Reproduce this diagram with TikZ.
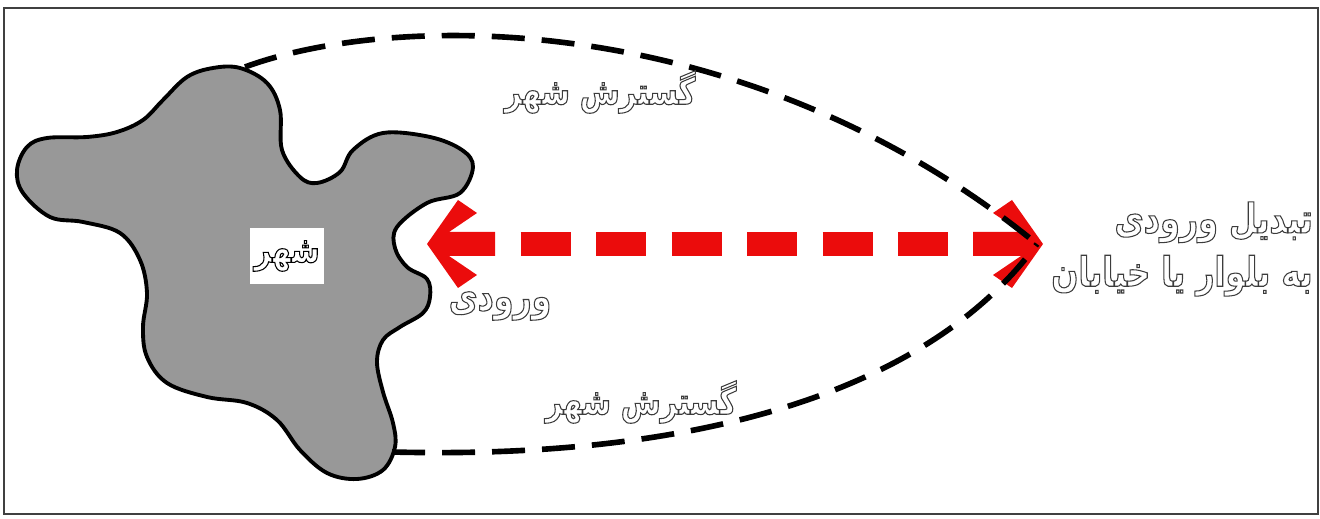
\documentclass[tikz,border=0pt]{standalone}
\usepackage{fontspec}
\usepackage{tikz}
\usetikzlibrary{positioning}
\newfontfamily\fafont[Script=Arabic, FakeStretch=0.78]{DejaVu Sans}
\TeXXeTstate=1
\newcommand\hollowfa[1]{\special{pdf:literal direct 0.3 w 1 Tr}\fafont\bfseries\beginR #1\endR\special{pdf:literal direct 0 Tr}}
\definecolor{arrowred}{RGB}{235,12,12}
\definecolor{blobgray}{RGB}{152,152,152}
\definecolor{txtgray}{RGB}{60,60,60}

\begin{document}
\begin{tikzpicture}[x=0.01cm, y=-0.01cm,
  farsi/.style={text=txtgray, inner sep=0pt, font=\fontsize{10.5}{14.5}\selectfont},
  citybox/.style={farsi, text=black, fill=white, minimum width=0.73cm, minimum height=0.55cm},
  spread/.style={line width=1.6pt, dash pattern=on 0.33cm off 0.17cm},
  entryshaft/.style={arrowred, line width=0.24cm, dash pattern=on 0.5cm off 0.255cm, dash phase=0.5cm},
  head/.style={fill=arrowred}]
\useasboundingbox (0,0) rectangle (1320,519);
\draw[line width=0.7pt, black!75] (4,8) rectangle (1318,514);

\draw[line width=1.1pt, fill=blobgray] plot[smooth cycle, tension=0.6] coordinates {
  (163,100) (187,77) (213,68) (240,68) (267,83) (280,110) (282,150) (300,177) (317,183)
  (340,172) (353,150) (383,133) (430,137) (462,150) (473,167) (460,193) (427,203)
  (397,227) (395,248) (407,267) (427,279) (430,297) (423,313) (400,327) (383,340)
  (377,362) (383,392) (393,423) (395,447) (383,470) (357,479) (327,473) (300,450)
  (277,420) (247,403) (207,397) (167,383) (147,357) (143,327) (147,293) (140,260)
  (120,233) (83,222) (50,217) (23,193) (17,170) (27,147) (47,138) (87,137) (117,132)
  (143,120)};

\node[citybox] (city) at (287,256) {\hollowfa{شهر}};

\coordinate (blobtop) at (245,67);
\coordinate (blobbot) at (392,452);
\coordinate (lefttip) at (427,244);
\coordinate (righttip) at (1043,244);
\coordinate (shaftL) at (495,244);
\coordinate (shaftR) at (973,244);
\coordinate (meet) at (1037,244);

\fill[head] (lefttip) -- +(31,-44) -- +(50,-31) -- +(22,-12) -- +(68,-12) -- +(68,12)
  -- +(22,12) -- +(50,31) -- +(31,44) -- cycle;
\fill[head] (righttip) -- +(-31,-44) -- +(-50,-31) -- +(-22,-12) -- +(-70,-12) -- +(-70,12)
  -- +(-22,12) -- +(-50,31) -- +(-31,44) -- cycle;
\draw[entryshaft] (shaftL) -- (shaftR);

\draw[spread] (blobtop) .. controls (400,10) and (750,10) .. (meet);
\draw[spread] (blobbot) .. controls (700,460) and (930,390) .. (meet);

\node[farsi, font=\fontsize{11.5}{15}\selectfont] (entry) at (500,306) {\hollowfa{ورودی}};
\node[farsi] (growup) at (600,92) {\hollowfa{گسترش شهر}};
\node[farsi] (growdown) at (641,402) {\hollowfa{گسترش شهر}};
\node[farsi, align=right, font=\fontsize{11.6}{15.2}\selectfont] (change) at (1182,249) {\hollowfa{تبدیل ورودی}\\\hollowfa{به بلوار یا خیابان}};
\end{tikzpicture}
\end{document}
